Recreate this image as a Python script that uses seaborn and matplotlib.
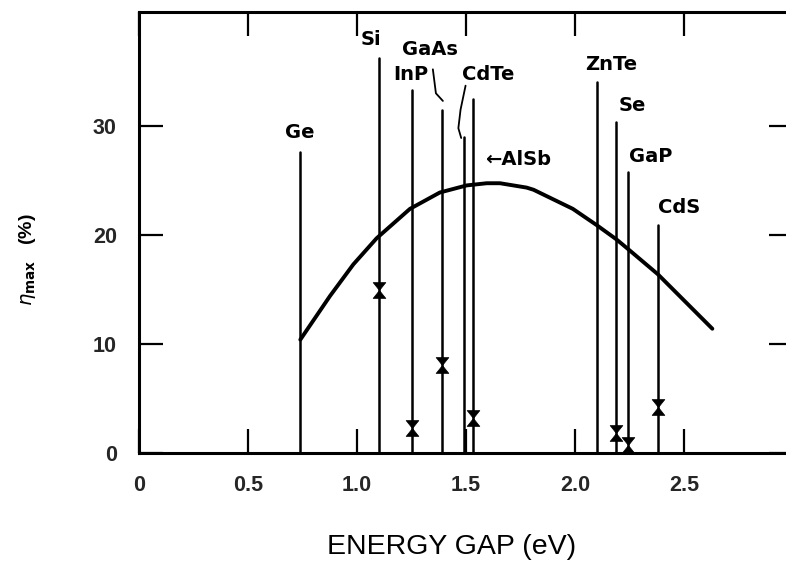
import numpy as np
import pandas as pd
import matplotlib
matplotlib.use("Agg")
import matplotlib.pyplot as plt
from matplotlib.path import Path
import seaborn as sns

# ---------------- data ----------------
materials = ["Ge", "Si", "InP", "GaAs", "CdTe", "AlSb", "ZnTe", "Se", "GaP", "CdS"]
gap_ev = [0.74, 1.10, 1.25, 1.39, 1.49, 1.53, 2.10, 2.19, 2.245, 2.38]
line_top = [27.6, 36.2, 33.3, 31.5, 29.0, 32.5, 34.0, 30.4, 25.8, 20.9]

meas_materials = ["Si", "InP", "GaAs", "AlSb", "Se", "GaP", "CdS"]
meas_gap = [1.10, 1.25, 1.39, 1.53, 2.19, 2.245, 2.38]
meas_eff = [14.95, 2.3, 8.1, 3.2, 1.8, 0.7, 4.2]

curve_gap = [0.74, 0.876, 0.983, 1.09, 1.243, 1.38, 1.503, 1.595, 1.656, 1.778,
             1.81, 1.99, 2.10, 2.19, 2.25, 2.38, 2.63]
curve_eff = [10.4, 14.4, 17.3, 19.7, 22.4, 23.9, 24.55, 24.75, 24.75, 24.35,
             24.15, 22.4, 20.9, 19.6, 18.6, 16.4, 11.4]

x_ticks = [0, 0.5, 1.0, 1.5, 2.0, 2.5]
x_tick_labels = ["0", "0.5", "1.0", "1.5", "2.0", "2.5"]
y_ticks = [0, 10, 20, 30]
y_tick_labels = ["0", "10", "20", "30"]

# label placement (data coords) for material names
label_pos = {
    "Ge": (0.738, 29.4),
    "Si": (1.064, 37.9),
    "InP": (1.245, 34.7),
    "GaAs": (1.335, 37.0),
    "CdTe": (1.601, 34.7),
    "ZnTe": (2.165, 35.6),
    "Se": (2.261, 31.9),
    "GaP": (2.349, 27.2),
    "CdS": (2.477, 22.5),
}

# ---------------- style ----------------
sns.set_theme(style="ticks")
plt.rcParams["font.family"] = ["Liberation Sans", "DejaVu Sans"]
plt.rcParams["mathtext.fontset"] = "dejavusans"

fig = plt.figure(figsize=(7.86, 5.67), dpi=100)
fig.patch.set_facecolor("white")
ax = fig.add_axes([139 / 786, 114 / 567, 654 / 786, 441 / 567])
ax.set_facecolor("white")

ink = "black"

# vertical material lines
ax.vlines(gap_ev, 0, line_top, colors=ink, linewidth=1.8, capstyle="round")

# theoretical curve
curve_df = pd.DataFrame({"gap": curve_gap, "eff": curve_eff})
sns.lineplot(data=curve_df, x="gap", y="eff", ax=ax, color=ink, linewidth=2.8,
             sort=False, estimator=None)
ax.lines[-1].set_solid_capstyle("round")
ax.lines[-1].set_solid_joinstyle("round")

# measured efficiencies (hourglass markers)
hourglass = Path([(-1, 1.25), (1, 1.25), (0, 0), (1, -1.25), (-1, -1.25), (0, 0), (-1, 1.25)],
                 [Path.MOVETO, Path.LINETO, Path.LINETO, Path.LINETO, Path.LINETO,
                  Path.LINETO, Path.CLOSEPOLY])
meas_df = pd.DataFrame({"gap": meas_gap, "eff": meas_eff, "mat": meas_materials})
sns.scatterplot(data=meas_df, x="gap", y="eff", ax=ax, marker=hourglass, s=130,
                color=ink, edgecolor=ink, linewidth=0.5, zorder=5, legend=False)

# material labels
label_font = dict(fontsize=14, fontweight="bold", color=ink, family=["DejaVu Sans"])
for m in materials:
    if m in label_pos:
        x, y = label_pos[m]
        ax.text(x, y, m, ha="center", va="center", **label_font)

ax.text(1.587, 26.9, "\u2190AlSb", ha="left", va="center", **label_font)

# leader lines for GaAs and CdTe
ax.plot([1.348, 1.362, 1.394], [35.2, 33.0, 32.3], color=ink, linewidth=1.3)
ax.plot([1.498, 1.475, 1.465, 1.478], [33.7, 31.5, 29.8, 28.9], color=ink, linewidth=1.3)

# axes limits, ticks
ax.set_xlim(0, 3.0)
ax.set_ylim(0, 40.46)
ax.set_xticks(x_ticks)
ax.set_xticklabels(x_tick_labels)
ax.set_yticks(y_ticks)
ax.set_yticklabels(y_tick_labels)
ax.set_xlabel("")
ax.set_ylabel("")
ax.tick_params(axis="both", which="major", direction="in", length=17, width=1.6,
               color=ink, labelsize=15.5, pad=16, top=True, right=True)
for lab in ax.get_xticklabels() + ax.get_yticklabels():
    lab.set_fontweight("bold")

for s in ax.spines.values():
    s.set_linewidth(2.2)
    s.set_color(ink)
    s.set_visible(True)

fig.text(452 / 786, 1 - 547 / 567, "ENERGY GAP (eV)", ha="center", va="center",
         fontsize=20.5, color=ink)
fig.text(27 / 786, 1 - 260 / 567, r"$\eta_{\mathbf{max}}$   (%)", ha="center", va="center",
         rotation=90, fontsize=14, fontweight="bold", color=ink)

fig.savefig("out.png", dpi=100, facecolor="white")
